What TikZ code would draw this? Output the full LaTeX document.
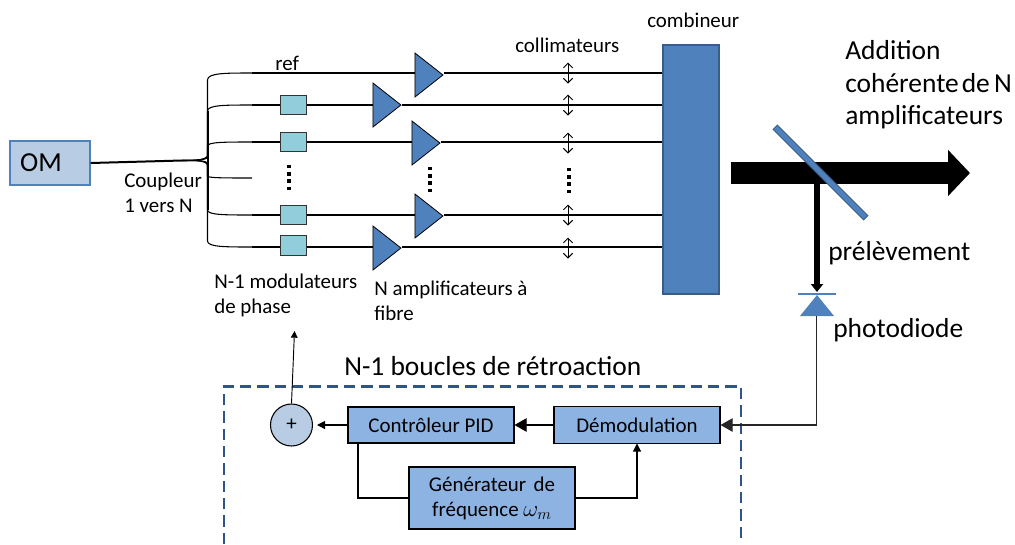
\documentclass[tikz,border=0pt]{standalone}
\usepackage{fontspec}
\setmainfont{Carlito}
\usetikzlibrary{arrows.meta,shapes.geometric}

\newcommand{\petit}{\fontsize{15.7}{18.75}\selectfont}
\newcommand{\grand}{\fontsize{20.6}{24.4}\selectfont}

\definecolor{omfill}{HTML}{B8CCE4}
\definecolor{blockfill}{HTML}{8DB3E2}
\definecolor{modfill}{HTML}{92CDDC}
\definecolor{bluefill}{HTML}{4F81BD}
\definecolor{blueedge}{HTML}{385D8A}
\definecolor{loopedge}{HTML}{2F5586}

\tikzset{
    fibre/.style={draw=black,line width=0.8pt},
    modbox/.style={draw=black!80,fill=modfill,line width=0.7pt,minimum width=20pt,minimum height=14.5pt,inner sep=0pt},
    amp/.style={isosceles triangle,isosceles triangle stretches,draw=black,fill=bluefill,line width=0.6pt,
        minimum width=33pt,minimum height=21pt,inner sep=0pt,anchor=apex},
    block/.style={draw=black,fill=blockfill,line width=0.8pt,inner sep=0pt,align=center,font=\petit},
    petittxt/.style={font=\petit,align=left,anchor=west,inner sep=0pt},
    grandtxt/.style={font=\grand,align=left,anchor=west,inner sep=0pt},
    dotcol/.style={line width=2.6pt,dash pattern=on 2.6pt off 2.8pt},
    lens/.style={line width=0.7pt,{Straight Barb[length=3.5pt,width=7pt]}-{Straight Barb[length=3.5pt,width=7pt]}},
    sig/.style={line width=0.8pt,-{Triangle[length=6pt,width=6pt]}}
}

\begin{document}
\begin{tikzpicture}[x=0.75pt,y=-0.75pt]
    \useasboundingbox (0,0) rectangle (1015,544);

    % Source and modulators
    \node[draw=bluefill,fill=omfill,line width=1pt,minimum width=60pt,minimum height=33pt,inner sep=0pt] (om) at (50,163) {};
    \node[font=\grand,inner sep=0pt] (omtxt) at (41,163) {OM};
    \node[modbox] (mod2) at (293.5,105) {};
    \node[modbox] (mod3) at (293.5,142) {};
    \node[modbox] (mod5) at (293.5,215) {};
    \node[modbox] (mod6) at (293.5,245.5) {};

    % Amplifiers
    \node[amp] (amp1) at (444,75) {};
    \node[amp] (amp2) at (402,105) {};
    \node[amp] (amp3) at (441,143) {};
    \node[amp] (amp5) at (444,216) {};
    \node[amp] (amp6) at (402,248) {};

    % Combiner
    \node[draw=blueedge,fill=bluefill,line width=1.6pt,minimum width=42.5pt,minimum height=187pt,inner sep=0pt] (comb) at (691,169.5) {};

    % Coupler: trunk, bus and branches
    \coordinate (fan) at (182,160.5);
    \draw[line width=1.5pt] (om.east) -- (fan);
    \foreach \name/\ya/\yb/\yc in {b1/155/80/73,b2/156/111/105,b3/157/146/142,b4/164/176/178,b5/165/210/215,b6/166/241/247} {
        \coordinate (\name) at (252,\yc);
        \draw[fibre] (fan) .. controls (195,160.5) and (207.5,160) .. (207.5,\ya)
            -- (207.5,\yb) .. controls (207.5,\yc) and (225,\yc) .. (\name);
    }
    \draw[line width=1.5pt] (207.5,111) -- (207.5,210);

    % Fibres
    \draw[fibre] (b1) -- (amp1.lower side |- b1);
    \draw[fibre] (b2) -- (mod2.west);
    \draw[fibre] (b3) -- (mod3.west);
    \draw[fibre] (b5) -- (mod5.west);
    \draw[fibre] (b6) -- (mod6.west |- b6);
    \draw[fibre] (mod2.east) -- (amp2.lower side |- b2);
    \draw[fibre] (mod3.east) -- (amp3.lower side |- b3);
    \draw[fibre] (mod5.east) -- (amp5.lower side |- b5);
    \draw[fibre] (mod6.east |- b6) -- (amp6.lower side |- b6);
    \foreach \n/\b in {amp1/b1,amp2/b2,amp3/b3,amp5/b5,amp6/b6} {
        \draw[fibre] (\n.apex |- \b) -- (comb.west |- \b);
    }

    % Collimators
    \foreach \y in {73,105,143,215,248} {
        \coordinate (lenstop) at (568,\y-10.5);
        \coordinate (lensbot) at (568,\y+10.5);
        \draw[lens] (lenstop) -- (lensbot);
    }

    % Vertical dots
    \draw[dotcol] (289,165) -- (289,191);
    \draw[dotcol] (430,167) -- (430,193);
    \draw[dotcol] (569,168) -- (569,194);

    % Output beam, splitter and photodiode
    \coordinate (beamin) at (731,173);
    \coordinate (beamout) at (970,173);
    \coordinate (tap) at (817,184);
    \coordinate (pdtop) at (817,292);
    \draw[line width=16.6pt,-{Triangle[length=16.5pt,width=33.75pt]}] (beamin) -- (beamout);
    \draw[line width=4.1pt,-{Triangle[length=6pt,width=9pt]}] (tap) -- (pdtop);
    \node[draw=blueedge,fill=bluefill,line width=0.7pt,minimum width=96pt,minimum height=4.6pt,inner sep=0pt,rotate=-45] (split) at (820.5,172.5) {};
    \coordinate (pdl) at (798,294);
    \coordinate (pdr) at (836,294);
    \draw[bluefill,line width=1.6pt] (pdl) -- (pdr);
    \fill[bluefill] (817,295) -- (800,316) -- (834,316) -- cycle;
    \coordinate (pdout) at (816.5,316);

    % Feedback loop
    \coordinate (fbl) at (224,544);
    \coordinate (fbtl) at (224,386.5);
    \coordinate (fbtr) at (741,386.5);
    \coordinate (fbr) at (741,544);
    \draw[loopedge,line width=1.8pt,dash pattern=on 8.5pt off 4.5pt] (fbl) -- (fbtl) -- (fbtr) -- (fbr);

    \node[circle,draw=black,fill=omfill,line width=0.8pt,minimum size=31.5pt,inner sep=0pt,font=\petit] (sum) at (291.5,425) {+};
    \node[block,minimum width=124.5pt,minimum height=27pt] (pid) at (431,425) {Contrôleur PID};
    \node[block,minimum width=124.5pt,minimum height=28pt] (demod) at (637,425) {Démodulation};
    \node[block,minimum width=124.5pt,minimum height=46.5pt] (gen) at (492,498) {Générateur\hspace{2pt} de\\fréquence {\fontsize{17.28}{18.75}\selectfont$\omega_m$}};

    \coordinate (modin) at (294.5,331);
    \draw[line width=0.7pt,-{Triangle[length=5pt,width=5pt]}] (sum.north) -- (modin);
    \coordinate (sumin) at (317,425);
    \draw[sig] (pid.west) -- (sumin);
    \draw[sig,-{Triangle[length=9pt,width=10pt]}] (demod.west) -- (pid.east);
    \draw[sig,-{Triangle[length=9pt,width=10pt]},black!85] (pdout) |- (demod.east);
    \coordinate (pidout) at (358,443);
    \coordinate (genin) at (358,498);
    \coordinate (demin) at (637,443.5);
    \coordinate (genout) at (637,498);
    \draw[fibre] (pidout) -- (genin) -- (gen.west);
    \draw[sig] (gen.east) -- (genout) -- (demin);

    % Labels
    \node[petittxt] (lref) at (275,63) {ref};
    \node[petittxt] (lcoll) at (515,45) {collimateurs};
    \node[petittxt] (lcomb) at (647,20) {combineur};
    \node[petittxt] (lcoup) at (124,192.5) {Coupleur\\1 vers N};
    \node[petittxt] (lmod) at (214,295.5) {N-1 modulateurs\\de phase};
    \node[petittxt] (lamp) at (374,301) {N amplificateurs à\\fibre};
    \node[grandtxt] (ladd) at (845,85) {Addition\\cohérente\hspace{-2.5pt} de\hspace{-1.5pt} N\\amplificateurs};
    \node[grandtxt] (lprel) at (828,253.5) {prélèvement};
    \node[grandtxt] (lpd) at (833,330.5) {photodiode};
    \node[grandtxt] (lboucle) at (344,366) {N-1 boucles de rétroaction};
\end{tikzpicture}
\end{document}
